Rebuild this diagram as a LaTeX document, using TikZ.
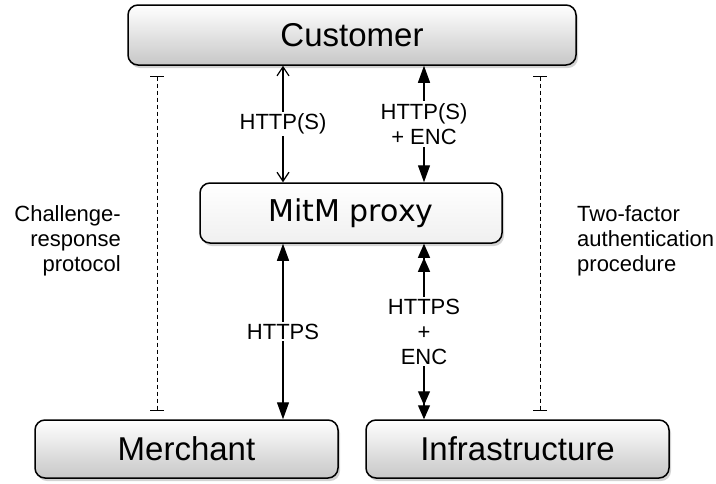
\documentclass[tikz,border=0pt]{standalone}
\usepackage{fontspec}
\setmainfont{Liberation Sans}
\newfontfamily\proxyfont{DejaVu Sans}
\usetikzlibrary{arrows.meta,shadows}

\begin{document}
\begin{tikzpicture}[x=1pt,y=-1pt,
    party/.style={draw,line width=1.5pt,rounded corners=10pt,
      top color=white,bottom color=black!22,inner sep=0pt,
      drop shadow={shadow xshift=2pt,shadow yshift=-3pt,opacity=0.35},
      font=\fontsize{33}{36}\selectfont},
    lbl/.style={font=\fontsize{22}{25}\selectfont,align=center,fill=white,inner sep=2pt},
    link/.style={draw,line width=1.2pt},
    opentip/.tip={Straight Barb[length=9pt,width=12pt,line width=1.2pt]},
    fulltip/.tip={Triangle[length=17pt,width=12pt]},
    twotip/.tip={Triangle[length=14pt,width=12pt] Triangle[length=14pt,width=12pt]},
    bartip/.tip={Bar[width=14pt,line width=1.2pt]}]

        \useasboundingbox (0,0) rectangle (716,483);

        \coordinate (l)  at (283,0);
        \coordinate (r)  at (424,0);
        \coordinate (dl) at (157,0);
        \coordinate (dr) at (540,0);

        \begin{scope}[every node/.style={party}]
          \node[minimum width=448pt,minimum height=60pt] (cust)  at (352,35)    {Customer};
          \node[minimum width=302pt,minimum height=60pt,top color=white,bottom color=black!6,
                font=\proxyfont\fontsize{30}{34}\selectfont] (proxy) at (351,213) {MitM proxy};
          \node[minimum width=303pt,minimum height=58pt] (merch) at (186.5,449) {Merchant};
          \node[minimum width=303pt,minimum height=58pt] (infra) at (517.5,449) {Infrastructure};
        \end{scope}

        \begin{scope}[every node/.style={lbl}]
          \path[link,opentip-opentip] (cust.south -| l)  -- node {HTTP(S)} (proxy.north -| l);
          \path[link,fulltip-fulltip] (cust.south -| r)  -- node {HTTP(S)\\+ ENC} (proxy.north -| r);
          \path[link,fulltip-fulltip] (proxy.south -| l) -- node {HTTPS} (merch.north -| l);
          \path[link,twotip-twotip]   (proxy.south -| r) -- node {HTTPS\\+\\ENC} (infra.north -| r);
        \end{scope}

        \begin{scope}[every path/.style={draw,line width=1pt,dash pattern=on 4pt off 3pt,bartip-bartip}]
          \path[shorten <=10pt,shorten >=8pt] (cust.south -| dl) -- (merch.north -| dl);
          \path[shorten <=10pt,shorten >=8pt] (cust.south -| dr) -- (infra.north -| dr);
        \end{scope}

        \begin{scope}[every node/.style={font=\fontsize{22}{25}\selectfont,inner sep=0pt}]
          \node[anchor=east,align=right] (crp) at (121,241) {Challenge-\\response\\protocol};
          \node[anchor=west,align=left]  (tfa) at (577,241) {Two-factor\\authentication\\procedure};
        \end{scope}

      \end{tikzpicture}
\end{document}
